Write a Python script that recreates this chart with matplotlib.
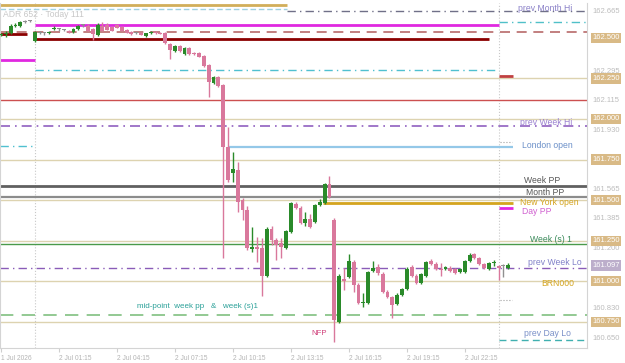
import matplotlib
matplotlib.use('Agg')
import matplotlib.pyplot as plt
import matplotlib.transforms as mtransforms
import pandas as pd
import numpy as np

plt.rcParams['font.family'] = ['Liberation Sans', 'DejaVu Sans']

# --- 15 分 K 線數據 (1 Jul 22:15 起) ---
times = pd.date_range('2026-07-01 22:15', periods=106, freq='15min')
opens = [162.517, 162.523, 162.530, 162.573, 162.573, 162.597, 162.604, 162.480, 162.530, 162.530,
         162.530, 162.554, 162.554, 162.548, 162.542, 162.536, 162.554, 162.579, 162.573, 162.554,
         162.517, 162.573, 162.579, 162.567, 162.579, 162.567, 162.548, 162.536, 162.530, 162.530,
         162.511, 162.530, 162.536, 162.530, 162.530, 162.462, 162.419, 162.450, 162.400, 162.437,
         162.406, 162.406, 162.388, 162.333, 162.222, 162.259, 162.209, 161.827, 161.667, 161.686,
         161.501, 161.439, 161.199, 161.211, 161.205, 161.033, 161.322, 161.254, 161.236, 161.205,
         161.304, 161.476, 161.452, 161.359, 161.384, 161.365, 161.470, 161.482, 161.599, 161.378,
         160.749, 161.014, 161.026, 161.119, 160.977, 160.866, 160.866, 161.063, 161.088, 161.045,
         160.934, 160.903, 160.860, 160.916, 160.953, 161.088, 161.033, 160.989, 161.033, 161.125,
         161.107, 161.076, 161.076, 161.082, 161.076, 161.057, 161.057, 161.125, 161.168, 161.143,
         161.107, 161.076, 161.113, 161.094, 161.094, 161.082]
highs = [162.530, 162.542, 162.585, 162.591, 162.604, 162.610, 162.610, 162.542, 162.542, 162.536,
         162.542, 162.573, 162.560, 162.554, 162.548, 162.560, 162.579, 162.585, 162.585, 162.560,
         162.591, 162.597, 162.591, 162.573, 162.585, 162.573, 162.554, 162.542, 162.536, 162.536,
         162.530, 162.542, 162.542, 162.536, 162.536, 162.468, 162.456, 162.456, 162.443, 162.443,
         162.413, 162.413, 162.394, 162.339, 162.265, 162.265, 162.215, 161.951, 161.797, 161.735,
         161.513, 161.464, 161.334, 161.273, 161.267, 161.334, 161.341, 161.267, 161.267, 161.316,
         161.488, 161.488, 161.464, 161.427, 161.415, 161.476, 161.507, 161.606, 161.649, 161.390,
         161.045, 161.082, 161.168, 161.131, 160.989, 160.928, 161.063, 161.125, 161.107, 161.057,
         160.946, 160.909, 160.928, 160.959, 161.088, 161.100, 161.045, 161.051, 161.125, 161.137,
         161.119, 161.113, 161.094, 161.094, 161.082, 161.082, 161.131, 161.174, 161.174, 161.149,
         161.113, 161.119, 161.131, 161.100, 161.107, 161.113]
lows = [162.511, 162.505, 162.523, 162.567, 162.567, 162.591, 162.597, 162.474, 162.523, 162.517,
        162.523, 162.548, 162.542, 162.542, 162.530, 162.530, 162.548, 162.567, 162.542, 162.487,
        162.511, 162.542, 162.548, 162.542, 162.560, 162.542, 162.530, 162.517, 162.523, 162.517,
        162.505, 162.523, 162.523, 162.523, 162.462, 162.369, 162.413, 162.413, 162.394, 162.394,
        162.394, 162.382, 162.320, 162.135, 162.215, 162.197, 161.143, 161.612, 161.612, 161.427,
        161.378, 161.193, 161.180, 161.119, 160.909, 161.026, 161.224, 161.131, 161.143, 161.199,
        161.297, 161.445, 161.353, 161.341, 161.328, 161.359, 161.464, 161.476, 161.513, 160.626,
        160.743, 160.946, 161.020, 160.934, 160.860, 160.842, 160.860, 161.057, 161.039, 160.928,
        160.897, 160.774, 160.854, 160.909, 160.946, 161.026, 160.983, 160.983, 161.026, 161.100,
        161.070, 161.033, 161.070, 161.057, 161.045, 161.051, 161.051, 161.119, 161.137, 161.100,
        161.076, 161.070, 161.094, 161.008, 161.026, 161.076]
closes = [162.523, 162.530, 162.573, 162.579, 162.597, 162.597, 162.604, 162.536, 162.530, 162.530,
          162.536, 162.560, 162.554, 162.548, 162.536, 162.554, 162.573, 162.579, 162.542, 162.523,
          162.579, 162.542, 162.548, 162.542, 162.560, 162.542, 162.530, 162.523, 162.530, 162.517,
          162.530, 162.536, 162.530, 162.523, 162.468, 162.425, 162.450, 162.419, 162.437, 162.400,
          162.400, 162.382, 162.326, 162.228, 162.259, 162.203, 161.827, 161.624, 161.692, 161.488,
          161.439, 161.205, 161.211, 161.199, 161.033, 161.322, 161.254, 161.224, 161.211, 161.310,
          161.482, 161.452, 161.359, 161.384, 161.334, 161.470, 161.488, 161.599, 161.519, 160.762,
          161.033, 161.002, 161.125, 160.977, 160.866, 160.872, 161.057, 161.082, 161.051, 160.934,
          160.903, 160.854, 160.916, 160.953, 161.076, 161.033, 160.989, 161.045, 161.119, 161.107,
          161.076, 161.070, 161.088, 161.063, 161.051, 161.076, 161.125, 161.162, 161.143, 161.107,
          161.082, 161.113, 161.119, 161.082, 161.094, 161.100]

# --- 水平價位 ---
prev_month_hi = 162.665
month_hi_top = 162.705
prev_day_hi_old = 162.678
day_pp_old = 162.363
day_pp = 162.579
day_pp_new = 161.452
prev_day_hi = 162.600
dashed_brown = 162.534
day_open_old = 162.523
day_open = 162.490
cyan_mid = 162.302
cyan_old = 161.834
red_short = 162.265
red_level = 162.118
prev_week_hi = 161.957
london_open = 161.827
week_pp = 161.587
month_pp = 161.519
ny_open = 161.482
week_s1 = 161.230
prev_week_lo = 161.082
mid_point = 160.790
prev_day_lo = 160.638
round_levels = [162.250, 162.000, 161.750, 161.500, 161.250, 161.000, 160.750]

# 右側價格刻度
axis_plain = [162.665, 162.295, 162.115, 161.930, 161.565, 161.385, 161.200, 160.830, 160.650]
axis_round = [162.500, 162.250, 162.000, 161.750, 161.500, 161.250, 161.000, 160.750]
axis_prev_week_lo = 161.097

fig = plt.figure(figsize=(6.25, 3.63), dpi=100)
ax = fig.add_axes([0.0, 15 / 363, 587 / 625, 345 / 363])
ax.set_xlim(-0.2, 121.3)
ax.set_ylim(160.589, 162.7145)

x = np.arange(len(opens))
o = np.array(opens); h = np.array(highs); l = np.array(lows); c = np.array(closes)
GREEN, PINK = '#2a8a2a', '#d9789c'
cols = np.where(c > o, GREEN, np.where(c < o, PINK, '#909090'))

day0, day1 = 7, 103   # 00:00 分隔
x_end = 121.3

# 參考線
def hl(y, x0, x1, color, lw=1.0, ls='-', dashes=None):
    line, = ax.plot([x0, x1], [y, y], color=color, lw=lw, ls=ls, zorder=2, solid_capstyle='butt')
    if dashes:
        line.set_dashes(dashes)

for lv in round_levels:
    hl(lv, -0.2, x_end, '#ddd3b0', 1.0)
hl(month_hi_top, -0.2, 59.2, '#d2ae5a', 2.0)
hl(prev_day_hi_old, -0.2, 59.2, '#9fd0e0', 1.0, dashes=[4, 2])
hl(prev_month_hi, 59.2, x_end, '#707088', 1.0, dashes=[6, 3, 1, 3])
hl(day_pp, day0, day1, '#e028e0', 2.0)
hl(day_pp_old, -0.2, day0, '#e028e0', 2.0)
hl(day_pp_new, day1, 106, '#e028e0', 2.0)
hl(prev_day_hi, day1, x_end, '#50c0c8', 1.0, dashes=[6, 3, 1, 3])
hl(dashed_brown, -0.2, x_end, '#b86a6a', 1.2, dashes=[6, 4])
hl(day_open, day0, 101, '#8b0000', 2.0)
hl(day_open_old, -0.2, 5.4, '#8b0000', 2.0)
hl(cyan_mid, day0, day1, '#50c0d0', 1.0, dashes=[6, 3, 1, 3])
hl(cyan_old, -0.2, day0, '#50c0d0', 1.0, dashes=[6, 3, 1, 3])
hl(red_short, day1, 106, '#c04040', 2.0)
hl(red_level, -0.2, x_end, '#cc5050', 1.0)
hl(prev_week_hi, -0.2, x_end, '#9060c0', 1.2, dashes=[6, 3, 1, 3])
hl(london_open, 47, 106, '#94c8e8', 1.6)
hl(week_pp, -0.2, x_end, '#606060', 2.0)
hl(month_pp, -0.2, x_end, '#8c8c8c', 1.6)
hl(ny_open, 66.7, 106, '#d4a41e', 2.0)
hl(week_s1, -0.2, x_end, '#4a9a4a', 1.0)
hl(prev_week_lo, -0.2, x_end, '#8a5cb8', 1.0, dashes=[6, 3, 1, 3])
hl(mid_point, -0.2, x_end, '#80c080', 1.2, dashes=[8, 5])
hl(prev_day_lo, day1, x_end, '#40b0b0', 1.0, dashes=[5, 3])
hl(161.860, day1 + 0.3, 105.7, '#a0a0a0', 0.8, ls=':')
hl(160.885, day1 + 0.3, 105.7, '#a0a0a0', 0.8, ls=':')

for d in (day0, day1):
    ax.axvline(d, color='#c8c8c8', lw=0.8, ls=':', zorder=1)

# K 線
ax.vlines(x, l, h, colors=cols, lw=1.0, zorder=3)
body = np.maximum(np.abs(c - o), 0.004)
ax.bar(x, body, bottom=np.minimum(o, c), width=0.8, color=cols, zorder=4)

# 標籤
txt = dict(fontsize=6.2, ha='center', va='center', zorder=5)
ax.text(112.6, 162.682, 'prev Month Hi', color='#8a80c8', **txt)
ax.text(112.9, 161.980, 'prev Week Hi', color='#9a80d0', **txt)
ax.text(113.2, 161.834, 'London open', color='#6a8fc8', **txt)
ax.text(112.1, 161.624, 'Week PP', color='#555555', **txt)
ax.text(112.7, 161.548, 'Month PP', color='#555555', **txt)
ax.text(113.6, 161.484, 'New York open', color='#d4a41e', **txt)
ax.text(110.9, 161.429, 'Day PP', color='#d060d0', **txt)
ax.text(113.8, 161.259, 'Week (s) 1', color='#3a8a5a', **txt)
ax.text(114.6, 161.117, 'prev Week Lo', color='#8080c8', **txt)
ax.text(115.3, 160.988, 'BRN000', color='#d4a41e', **txt)
ax.text(113.2, 160.680, 'prev Day Lo', color='#7a90c8', **txt)
ax.text(40.7, 160.844, 'mid-point  week pp   &   week (s)1', color='#2aa098',
        fontsize=5.8, ha='center', va='center')
ax.text(65.8, 160.680, 'NFP', color='#d0407a', fontsize=5.6, ha='center', va='center')
ax.text(0.4, 162.641, 'ADR 652 · Today 111', color='#c8c8c8', fontsize=6.2, ha='left', va='center')

# 右側價格軸
tr = mtransforms.blended_transform_factory(ax.transAxes, ax.transData)
for v in axis_plain:
    ax.text(1.009, v, f'{v:.3f}', transform=tr, fontsize=5.5, color='#bdbdbd',
            ha='left', va='center', clip_on=False)
for v in axis_round:
    ax.text(1.009, v, f'{v:.3f}', transform=tr, fontsize=5.5, color='white', ha='left',
            va='center', clip_on=False,
            bbox=dict(boxstyle='square,pad=0.22', fc='#d9ba86', ec='none'))
ax.text(1.009, axis_prev_week_lo, f'{axis_prev_week_lo:.3f}', transform=tr, fontsize=5.5,
        color='white', ha='left', va='center', clip_on=False,
        bbox=dict(boxstyle='square,pad=0.22', fc='#bcaecb', ec='none'))

# 時間軸
tick_idx = x[::12]
labels = []
for i in tick_idx:
    t = times[i]
    labels.append('1 Jul 2026' if i == 0 else f'{t.day} Jul {t:%H:%M}')
ax.set_xticks(tick_idx)
ax.set_xticklabels(labels, ha='left')
ax.set_yticks([])
ax.tick_params(axis='x', length=3, color='#cfcfcf', labelcolor='#b4b4b4', labelsize=4.8, pad=2)

for s in ('left', 'bottom', 'right'):
    ax.spines[s].set_color('#d4d4d4')
    ax.spines[s].set_linewidth(0.8)
ax.spines['top'].set_visible(False)

fig.savefig('out.png', dpi=100)
